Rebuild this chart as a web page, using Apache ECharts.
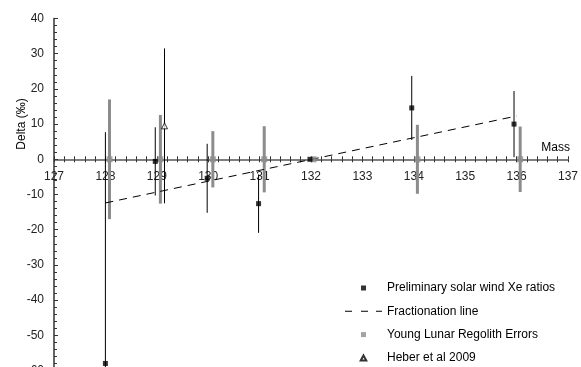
<!DOCTYPE html>
<html>
<head>
<meta charset="utf-8">
<style>
  html, body { margin: 0; padding: 0; background: #fff; }
  #chart { width: 581px; height: 367px; }
</style>
<script src="https://cdn.jsdelivr.net/npm/echarts@6/dist/echarts.min.js"></script>
</head>
<body>
<div id="chart"></div>
<script>
  // preliminary solar wind Xe ratios (delta, permil) with 1-sigma errors
  var swMass = [128.0, 128.97, 129.98, 130.98, 131.98, 133.96, 135.95];
  var swDelta = [-58.0, -0.6, -5.4, -12.6, 0.0, 14.6, 10.0];
  var swErr = [65.7, 9.7, 9.8, 8.3, 0, 9.1, 9.4];

  // young lunar regolith, plotted at zero with its error range
  var yrMass = [128.08, 129.07, 130.09, 131.09, 132.05, 134.07, 136.07];
  var yrDelta = [0, 0, 0, 0, 0, 0, 0];
  var yrErr = [17.0, 12.6, 8.0, 9.4, 0.5, 9.8, 9.3];

  // Heber et al 2009
  var hbMass = [129.15];
  var hbDelta = [9.5];
  var hbErr = [22.0];

  // fractionation line end points
  var fracMass = [128, 136];
  var fracDelta = [-12.4, 12.3];

  var yTicks = { min: -60, max: 40, interval: 10 };
  var xTicks = { min: 127, max: 137, interval: 1 };

  var font = 'Liberation Sans, Arial, sans-serif';

  function points(xs, ys) {
    return xs.map(function (x, i) { return [x, ys[i]]; });
  }

  function ranges(xs, ys, errs) {
    return xs.map(function (x, i) { return [x, ys[i] - errs[i], ys[i] + errs[i]]; });
  }

  function errorBar(color, width) {
    return function (params, api) {
      var lo = api.coord([api.value(0), api.value(1)]);
      var hi = api.coord([api.value(0), api.value(2)]);
      return {
        type: 'line',
        shape: { x1: lo[0], y1: lo[1], x2: hi[0], y2: hi[1] },
        style: { stroke: color, lineWidth: width }
      };
    };
  }

  var square = 'path://M0,0H10V10H0Z';
  var triangle = 'path://M5,0L10,9L0,9Z';
  var dashes = 'path://M0,0H7V1H0Z M16,0H23V1H16Z M31,0H37V1H31Z';

  var chart = echarts.init(document.getElementById('chart'));

  var option = {
    animation: false,
    textStyle: { fontFamily: font },
    grid: { left: 54, right: 13, top: 18.5, height: 352, outerBoundsMode: 'none' },
    legend: {
      orient: 'vertical',
      left: 345,
      top: 282,
      height: 100,
      padding: 0,
      itemWidth: 37,
      itemHeight: 5,
      itemGap: 11.3,
      textStyle: { fontSize: 12, color: '#000', fontFamily: font },
      data: [
        { name: 'Preliminary solar wind Xe ratios', icon: square },
        { name: 'Fractionation line', icon: dashes, itemStyle: { color: '#000' } },
        { name: 'Young Lunar Regolith Errors', icon: square },
        { name: 'Heber et al 2009', icon: triangle }
      ]
    },
    graphic: [{
      type: 'text',
      x: 22,
      y: 124,
      rotation: Math.PI / 2,
      style: {
        text: 'Delta (‰)',
        fontSize: 12,
        fontFamily: font,
        fill: '#000',
        align: 'center',
        verticalAlign: 'middle'
      }
    }],
    xAxis: [{
      type: 'value',
      min: xTicks.min,
      max: xTicks.max,
      interval: xTicks.interval,
      position: 'bottom',
      name: 'Mass',
      nameLocation: 'end',
      nameGap: 2,
      nameTextStyle: { fontSize: 12, color: '#000', align: 'right', verticalAlign: 'bottom', padding: [0, 0, 6, 0] },
      axisLine: { onZero: false, lineStyle: { color: '#555', width: 1.5 } },
      axisTick: { length: 3, lineStyle: { color: '#333' } },
      minorTick: { show: true, splitNumber: 5, length: 3, lineStyle: { color: '#333' } },
      axisLabel: { fontSize: 12, color: '#222', margin: 11 },
      splitLine: { show: false }
    }, {
      // second copy only for the upward half of the crossing ticks
      type: 'value',
      min: xTicks.min,
      max: xTicks.max,
      interval: xTicks.interval,
      position: 'bottom',
      axisLine: { show: false, onZero: false },
      axisTick: { inside: true, length: 3, lineStyle: { color: '#333' } },
      minorTick: { show: true, splitNumber: 5, length: 3, lineStyle: { color: '#333' } },
      axisLabel: { show: false },
      splitLine: { show: false }
    }],
    yAxis: {
      type: 'value',
      min: yTicks.min,
      max: yTicks.max,
      interval: yTicks.interval,
      axisLine: { show: true, onZero: false, lineStyle: { color: '#333', width: 1.5 } },
      axisTick: { inside: true, length: 4, lineStyle: { color: '#333' } },
      minorTick: { show: true, splitNumber: 5, length: 3, lineStyle: { color: '#333' } },
      axisLabel: { fontSize: 12, color: '#222', margin: 10 },
      splitLine: { show: false }
    },
    series: [
      {
        name: 'yr-bars',
        type: 'custom',
        renderItem: errorBar('#8c8c8c', 3),
        encode: { x: 0, y: [1, 2] },
        data: ranges(yrMass, yrDelta, yrErr),
        z: 3
      },
      {
        name: 'sw-bars',
        type: 'custom',
        renderItem: errorBar('#000', 1),
        encode: { x: 0, y: [1, 2] },
        data: ranges(swMass, swDelta, swErr),
        z: 4
      },
      {
        name: 'hb-bars',
        type: 'custom',
        renderItem: errorBar('#000', 1),
        encode: { x: 0, y: [1, 2] },
        data: ranges(hbMass, hbDelta, hbErr),
        z: 4
      },
      {
        name: 'Fractionation line',
        type: 'line',
        symbol: 'none',
        data: points(fracMass, fracDelta),
        itemStyle: { color: '#000' },
        lineStyle: { color: '#000', width: 1, type: [8, 6] },
        z: 5
      },
      {
        name: 'Young Lunar Regolith Errors',
        type: 'scatter',
        symbol: 'rect',
        symbolSize: 6,
        data: points(yrMass, yrDelta),
        itemStyle: { color: '#8c8c8c' },
        z: 5
      },
      {
        name: 'Preliminary solar wind Xe ratios',
        type: 'scatter',
        symbol: 'rect',
        symbolSize: 5,
        data: points(swMass, swDelta),
        itemStyle: { color: '#000' },
        z: 6
      },
      {
        name: 'Heber et al 2009',
        type: 'scatter',
        symbol: 'triangle',
        symbolSize: 6,
        data: points(hbMass, hbDelta),
        itemStyle: { color: '#fff', borderColor: '#000', borderWidth: 1 },
        z: 6
      }
    ]
  };

  chart.setOption(option);

  // the mass axis crosses at delta = 0: shift both x axes up from the grid bottom
  var zeroY = chart.convertToPixel({ yAxisIndex: 0 }, 0);
  var bottomY = chart.convertToPixel({ yAxisIndex: 0 }, yTicks.min);
  var shift = zeroY - bottomY;
  chart.setOption({ xAxis: [{ offset: shift }, { offset: shift }] });
</script>
</body>
</html>
